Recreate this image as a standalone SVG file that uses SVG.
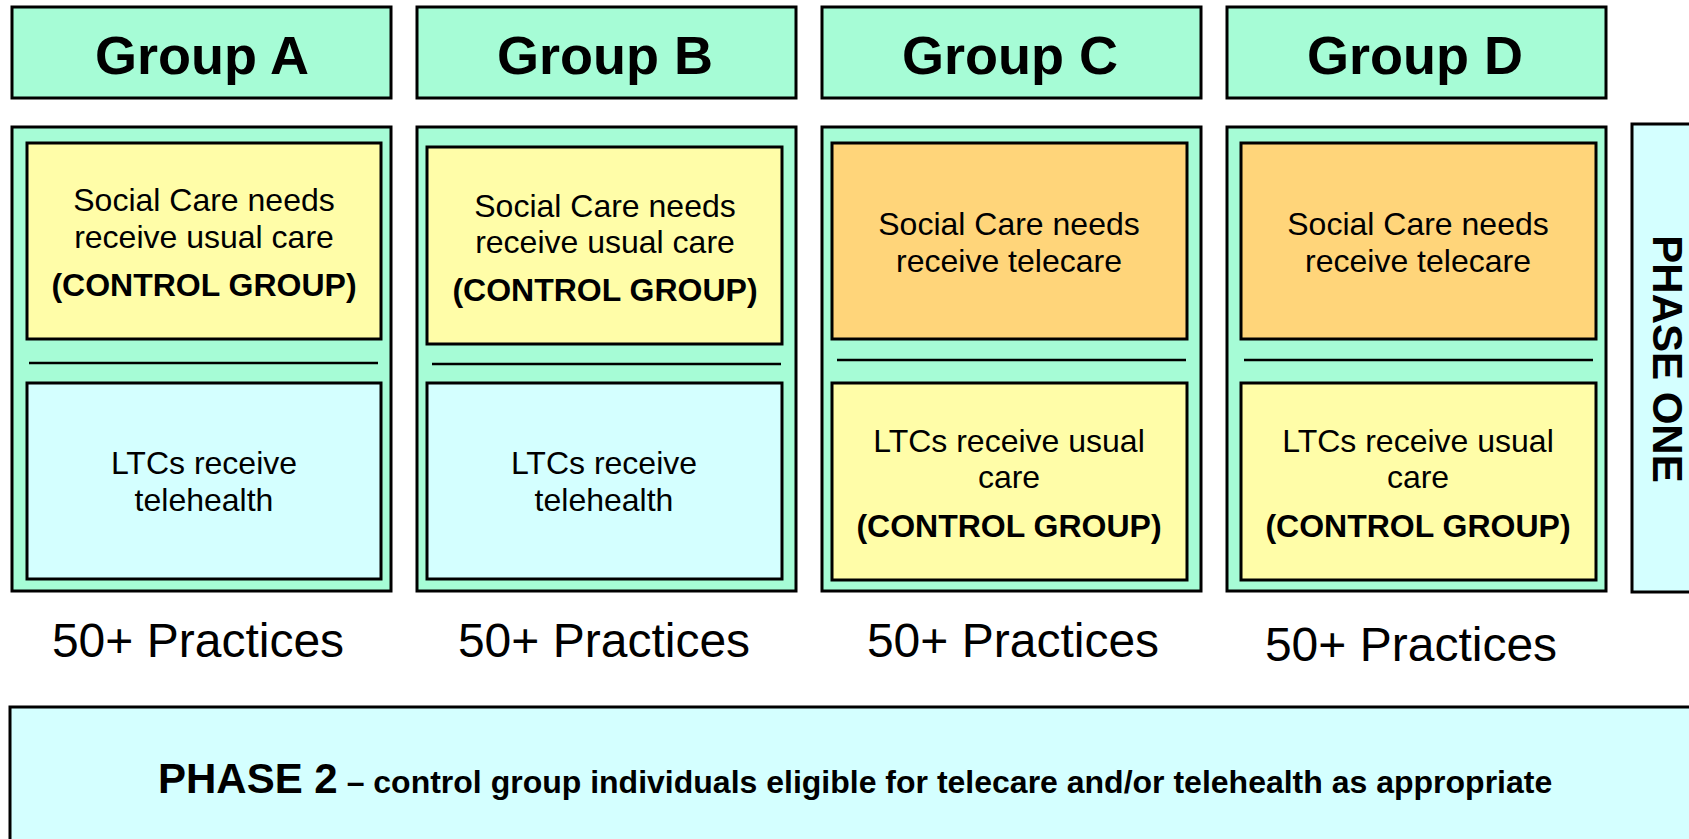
<svg xmlns="http://www.w3.org/2000/svg" width="1689" height="839" viewBox="0 0 1689 839">
<style>
.box{stroke:#000;stroke-width:3}
.mint{fill:#A6FCD6}
.yel{fill:#FFFDA8}
.org{fill:#FFD57A}
.cyan{fill:#D4FFFF}
.div{stroke:#000;stroke-width:2.5}
text{font-family:"Liberation Sans",Arial,sans-serif;fill:#000;text-anchor:middle}
.hd{font-size:54px;font-weight:bold}
.t{font-size:32px}
.b{font-size:32px;font-weight:bold}
.pr{font-size:48px}
</style>
<rect width="1689" height="839" fill="#fff"/>
<g id="groupA">
<rect class="box mint" x="12" y="7" width="379" height="91"/>
<text class="hd" x="202" y="74">Group A</text>
<rect class="box mint" x="12" y="127" width="379" height="464"/>
<rect class="box yel" x="27" y="143" width="354" height="196"/>
<text class="t" x="204" y="211">Social Care needs</text>
<text class="t" x="204" y="248">receive usual care</text>
<text class="b" x="204" y="296">(CONTROL GROUP)</text>
<line class="div" x1="29" y1="363" x2="378" y2="363"/>
<rect class="box cyan" x="27" y="383" width="354" height="196"/>
<text class="t" x="204" y="474">LTCs receive</text>
<text class="t" x="204" y="511">telehealth</text>
<text class="pr" x="198" y="657">50+ Practices</text>
</g>
<g id="groupB">
<rect class="box mint" x="417" y="7" width="379" height="91"/>
<text class="hd" x="605" y="74">Group B</text>
<rect class="box mint" x="417" y="127" width="379" height="464"/>
<rect class="box yel" x="427" y="147" width="355" height="197"/>
<text class="t" x="605" y="217">Social Care needs</text>
<text class="t" x="605" y="253">receive usual care</text>
<text class="b" x="605" y="301">(CONTROL GROUP)</text>
<line class="div" x1="432" y1="364" x2="781" y2="364"/>
<rect class="box cyan" x="427" y="383" width="355" height="196"/>
<text class="t" x="604" y="474">LTCs receive</text>
<text class="t" x="604" y="511">telehealth</text>
<text class="pr" x="604" y="657">50+ Practices</text>
</g>
<g id="groupC">
<rect class="box mint" x="822" y="7" width="379" height="91"/>
<text class="hd" x="1010" y="74">Group C</text>
<rect class="box mint" x="822" y="127" width="379" height="464"/>
<rect class="box org" x="832" y="143" width="355" height="196"/>
<text class="t" x="1009" y="235">Social Care needs</text>
<text class="t" x="1009" y="272">receive telecare</text>
<line class="div" x1="837" y1="360" x2="1186" y2="360"/>
<rect class="box yel" x="832" y="383" width="355" height="197"/>
<text class="t" x="1009" y="452">LTCs receive usual</text>
<text class="t" x="1009" y="488">care</text>
<text class="b" x="1009" y="537">(CONTROL GROUP)</text>
<text class="pr" x="1013" y="657">50+ Practices</text>
</g>
<g id="groupD">
<rect class="box mint" x="1227" y="7" width="379" height="91"/>
<text class="hd" x="1415" y="74">Group D</text>
<rect class="box mint" x="1227" y="127" width="379" height="464"/>
<rect class="box org" x="1241" y="143" width="355" height="196"/>
<text class="t" x="1418" y="235">Social Care needs</text>
<text class="t" x="1418" y="272">receive telecare</text>
<line class="div" x1="1244" y1="360" x2="1593" y2="360"/>
<rect class="box yel" x="1241" y="383" width="355" height="197"/>
<text class="t" x="1418" y="452">LTCs receive usual</text>
<text class="t" x="1418" y="488">care</text>
<text class="b" x="1418" y="537">(CONTROL GROUP)</text>
<text class="pr" x="1411" y="661">50+ Practices</text>
</g>
<g id="phaseOne">
<rect class="box cyan" x="1632" y="124" width="70" height="468"/>
<text transform="translate(1653,359) rotate(90)" style="font-size:42px;font-weight:bold">PHASE ONE</text>
</g>
<g id="phase2">
<rect class="box cyan" x="10" y="707" width="1700" height="150"/>
<text x="158" y="793" style="text-anchor:start;font-weight:bold"><tspan style="font-size:42px">PHASE 2</tspan><tspan style="font-size:32px"> – control group individuals eligible for telecare and/or telehealth as appropriate</tspan></text>
</g>
<g id="connectors"/>
</svg>
